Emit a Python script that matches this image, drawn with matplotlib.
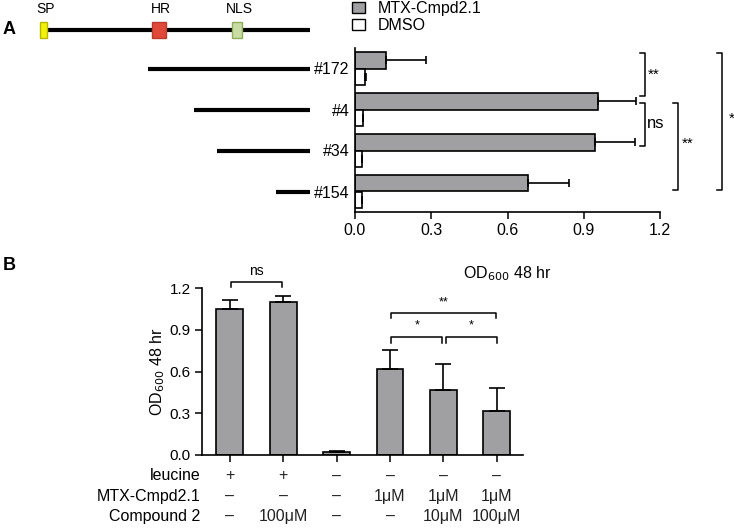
import numpy as np
import matplotlib
matplotlib.use("Agg")
import matplotlib.pyplot as plt
from matplotlib.patches import Rectangle, Patch

plt.rcParams['font.family'] = ['Liberation Sans', 'DejaVu Sans']

# ---- data, panel A ----
fragments = ['#172', '#4', '#34', '#154']
frag_start = [39.3, 56.6, 65.2, 87.3]          # start on the full-length protein (0-100)
protein_end = 100.0
domains = ['SP', 'HR', 'NLS']
domain_center = [0.2, 43.3, 72.7]
domain_width = [2.6, 5.2, 3.7]
domain_face = ['#f2f20a', '#e0493a', '#c9dca3']
domain_edge = ['#b8b800', '#b83a2e', '#8fae5a']

mtx_a = [0.122, 0.956, 0.944, 0.680]
mtx_a_err = [0.158, 0.148, 0.158, 0.162]
dmso_a = [0.040, 0.030, 0.026, 0.026]
dmso_a_err = [0.004, 0.003, 0.003, 0.003]

# ---- data, panel B ----
od_b = [1.05, 1.098, 0.025, 0.616, 0.465, 0.313]
od_b_err = [0.067, 0.042, 0.006, 0.138, 0.192, 0.165]
row_names = ['leucine', 'MTX-Cmpd2.1', 'Compound 2']
leucine = ['+', '+', '–', '–', '–', '–']
mtx_dose = ['–', '–', '–', '1μM', '1μM', '1μM']
cmpd2_dose = ['–', '100μM', '–', '–', '10μM', '100μM']

W, H = 734, 529
GRAY = '#a0a0a2'


def box(x0, y0, x1, y1):
    # pixel box (top-left origin) -> figure fraction rect
    return [x0 / W, 1 - y1 / H, (x1 - x0) / W, (y1 - y0) / H]


fig = plt.figure(figsize=(W / 100, H / 100), dpi=100)

# ================= panel A, bars =================
axA = fig.add_axes(box(355, 48, 660, 212))
y = np.arange(len(fragments))
h = 0.4
axA.barh(y - 0.2, mtx_a, height=h, color=GRAY, edgecolor='black', linewidth=1.2)
axA.barh(y + 0.2, dmso_a, height=h, color='white', edgecolor='black', linewidth=1.2)
axA.errorbar(mtx_a, y - 0.2, xerr=[np.zeros(4), mtx_a_err], fmt='none',
             ecolor='black', elinewidth=1.2, capsize=3, capthick=1.2)
axA.errorbar(dmso_a, y + 0.2, xerr=[np.zeros(4), dmso_a_err], fmt='none',
             ecolor='black', elinewidth=1.2, capsize=3, capthick=1.2)
axA.set_xlim(0, 1.2)
axA.set_ylim(3.5, -0.5)
axA.set_xticks([0.0, 0.3, 0.6, 0.9, 1.2])
axA.set_xticklabels(['0.0', '0.3', '0.6', '0.9', '1.2'])
axA.set_yticks(y)
axA.set_yticklabels(fragments)
axA.tick_params(axis='y', length=0, pad=4, labelsize=11.5)
axA.tick_params(axis='x', length=5, width=1.1, labelsize=11.5, pad=3)
for s in ['top', 'right']:
    axA.spines[s].set_visible(False)
for s in ['left', 'bottom']:
    axA.spines[s].set_linewidth(1.2)
axA.set_xlabel('OD$_{600}$ 48 hr', fontsize=11.5, labelpad=19)

# significance brackets, panel A (x, y_top, y_bottom, label, text x, text y)
brk_a = [(1.141, -0.38, 0.66, '**', 1.152, 0.16),
         (1.141, 0.83, 1.88, 'ns', 1.150, 1.34),
         (1.271, 0.83, 2.97, '**', 1.285, 1.83),
         (1.444, -0.38, 2.97, '*', 1.472, 1.23)]
for bx, yt, yb, lab, tx, ty in brk_a:
    axA.plot([bx - 0.02, bx, bx, bx - 0.02], [yt, yt, yb, yb], color='black',
             lw=1.1, clip_on=False)
    axA.text(tx, ty, lab, ha='left', va='center',
             fontsize=12 if lab == 'ns' else 11, clip_on=False)

fig.legend(handles=[Patch(facecolor=GRAY, edgecolor='black', linewidth=1.0),
                    Patch(facecolor='white', edgecolor='black', linewidth=1.0)],
           labels=['MTX-Cmpd2.1', 'DMSO'], loc='upper left',
           bbox_to_anchor=(352 / W, 1 - 1 / H), frameon=False, fontsize=11.5,
           handlelength=0.8, handleheight=0.65, handletextpad=0.8,
           labelspacing=0.15, borderpad=0, borderaxespad=0)

# ================= panel A, construct diagram =================
axD = fig.add_axes(box(43, 0, 310, 212))
axD.set_xlim(0, protein_end)
axD.set_ylim(3.5, -0.5 - 48 / 41)
axD.axis('off')
y_full = -0.94
axD.plot([0, protein_end], [y_full, y_full], color='black', lw=3,
         solid_capstyle='butt', zorder=1)
for name, c, w, fc, ec in zip(domains, domain_center, domain_width,
                              domain_face, domain_edge):
    axD.add_patch(Rectangle((c - w / 2, y_full - 0.185), w, 0.37,
                            facecolor=fc, edgecolor=ec, lw=1.0, zorder=2,
                            clip_on=False))
    axD.text(c + 0.8, -1.45, name, ha='center', va='center', fontsize=10)
for i, st in enumerate(frag_start):
    axD.plot([st, protein_end], [y[i], y[i]], color='black', lw=3,
             solid_capstyle='butt')

fig.text(9 / W, 1 - 30 / H, 'A', fontsize=13, fontweight='bold',
         ha='center', va='center')

# ================= panel B =================
axB = fig.add_axes(box(202, 288, 523, 455))
xb = np.arange(len(od_b))
axB.bar(xb, od_b, width=0.5, color=GRAY, edgecolor='black', linewidth=1.2)
axB.errorbar(xb, od_b, yerr=[np.zeros(6), od_b_err], fmt='none',
             ecolor='black', elinewidth=1.2, capsize=5.5, capthick=1.2)
axB.set_xlim(-0.52, 5.49)
axB.set_ylim(0, 1.2)
axB.set_yticks([0.0, 0.3, 0.6, 0.9, 1.2])
axB.set_yticklabels(['0.0', '0.3', '0.6', '0.9', '1.2'])
axB.set_xticks(xb)
axB.set_xticklabels([])
axB.tick_params(axis='both', length=5, width=1.1, labelsize=11, pad=3)
for s in ['top', 'right']:
    axB.spines[s].set_visible(False)
for s in ['left', 'bottom']:
    axB.spines[s].set_linewidth(1.2)
axB.set_ylabel('OD$_{600}$ 48 hr', fontsize=11.5, labelpad=2)

# condition table under the bars
trans = axB.get_xaxis_transform()
row_y = [-0.125, -0.25, -0.37]
for ry, name, vals in zip(row_y, row_names, [leucine, mtx_dose, cmpd2_dose]):
    axB.text(-0.005, ry, name, transform=axB.transAxes, ha='right',
             va='center', fontsize=11.5)
    for xi, v in zip(xb, vals):
        axB.text(xi, ry, v, transform=trans, ha='center', va='center',
                 fontsize=11.5, color='#222222')

# significance brackets, panel B (bar i, bar j, top, arm bottom, label)
brk_b = [(0, 1, 1.24, 1.21, 'ns'),
         (3, 5, 1.02, 0.985, '**'),
         (3, 4, 0.85, 0.805, '*'),
         (4, 5, 0.85, 0.805, '*')]
for i, j, top, arm, lab in brk_b:
    x0, x1 = xb[i] + 0.02, xb[j] - 0.02
    if lab == '*' and i == 4:
        x0, x1 = xb[i] + 0.04, xb[j]
    axB.plot([x0, x0, x1, x1], [arm, top, top, arm], color='black', lw=1.1,
             clip_on=False)
    axB.text((x0 + x1) / 2, top + 0.035, lab, ha='center', va='bottom',
             fontsize=10 if lab == 'ns' else 9, clip_on=False)

fig.text(9 / W, 1 - 265 / H, 'B', fontsize=13, fontweight='bold',
         ha='center', va='center')

fig.savefig('out.png', dpi=100)
